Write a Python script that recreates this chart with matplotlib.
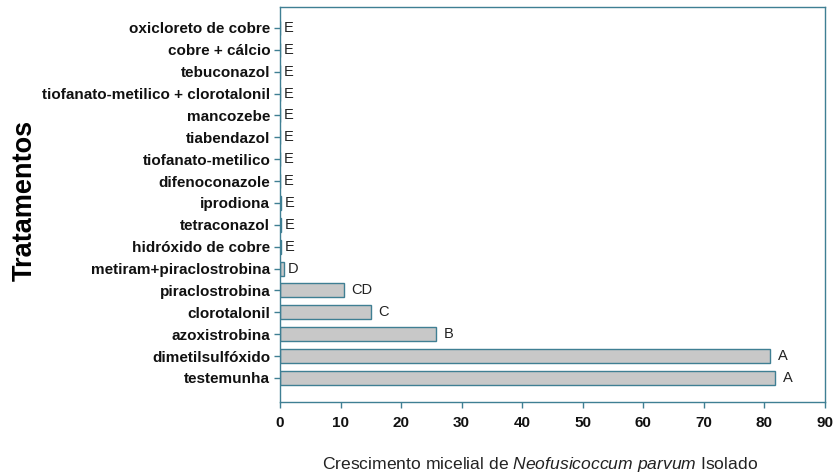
import matplotlib
matplotlib.use("Agg")
import matplotlib.pyplot as plt

treatments = ["testemunha", "dimetilsulfóxido", "azoxistrobina", "clorotalonil",
              "piraclostrobina", "metiram+piraclostrobina", "hidróxido de cobre",
              "tetraconazol", "iprodiona", "difenoconazole", "tiofanato-metilico",
              "tiabendazol", "mancozebe", "tiofanato-metilico + clorotalonil",
              "tebuconazol", "cobre + cálcio", "oxicloreto de cobre"]
growth = [81.8, 80.9, 25.8, 15.0, 10.5, 0.7, 0.2, 0.2, 0.2, 0.0, 0.0, 0.0, 0.0, 0.0, 0.0, 0.0, 0.0]
letters = ["A", "A", "B", "C", "CD", "D", "E", "E", "E", "E", "E", "E", "E", "E", "E", "E", "E"]
xticks = [0, 10, 20, 30, 40, 50, 60, 70, 80, 90]

plt.rcParams['font.family'] = ['Liberation Sans', 'DejaVu Sans']
plt.rcParams['mathtext.fontset'] = 'custom'
plt.rcParams['mathtext.rm'] = 'Liberation Sans'
plt.rcParams['mathtext.it'] = 'Liberation Sans:italic'
edge = "#3f7f93"

fig = plt.figure(figsize=(8.37, 4.75), dpi=100)
ax = fig.add_axes([0.3345, 0.1537, 0.6512, 0.8326])
pos = list(range(len(treatments)))
ax.barh(pos, growth, height=0.64, color="#c8c8c8", edgecolor=edge, linewidth=1.0)
for p, v, l in zip(pos, growth, letters):
    ax.annotate(l, (v, p), xytext=(5.5 if v > 1 else 2.5, 0), textcoords="offset points",
                ha="left", va="center", fontsize=10.5, color="#222222")

ax.set_xlim(0, 90)
ax.set_ylim(-1.1, 16.98)
ax.set_xticks(xticks)
ax.set_yticks(pos)
ax.set_yticklabels(treatments, fontsize=11, fontweight="bold")
ax.set_xticklabels([str(t) for t in xticks], fontsize=11, fontweight="bold")
for s in ax.spines.values():
    s.set_color(edge)
    s.set_linewidth(1.0)
ax.tick_params(axis="both", colors=edge, length=4, width=1.0, labelcolor="#111111")
ax.tick_params(axis="x", pad=6)
ax.tick_params(axis="y", pad=3)

fig.text(25 / 837, 1 - 200 / 475, "Tratamentos", rotation=90, fontsize=19.5,
         fontweight="bold", ha="center", va="center")
fig.text(540 / 837, 1 - 465 / 475,
         "Crescimento micelial de $\\it{Neofusicoccum\\ parvum}$ Isolado",
         fontsize=12.6, ha="center", va="center", color="#222222")

fig.savefig("out.png", dpi=100)
